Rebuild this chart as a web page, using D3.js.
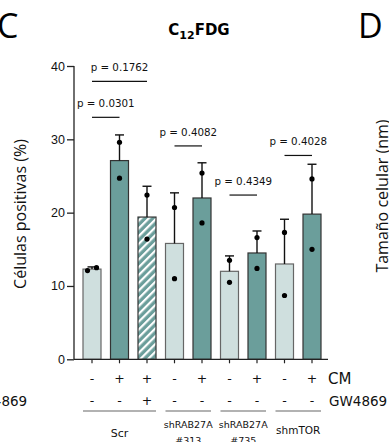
<!DOCTYPE html>
<html>
<head>
<meta charset="utf-8">
<script src="https://cdn.jsdelivr.net/npm/d3@7"></script>
<style>
body{margin:0;background:#fff;}
svg{display:block;}
</style>
</head>
<body>
<div id="graphHolder"></div>
<script>
//data
const groups = ['Scr','shRAB27A\n#313','shRAB27A\n#735','shmTOR']
const groupOf = [0,0,0,1,1,2,2,3,3]
const cm = ['-','+','+','-','+','-','+','-','+']
const gw = ['-','-','+','-','-','-','-','-','-']
const means = [12.3,27.1,19.4,15.8,22.0,12.0,14.5,13.0,19.8]
const sd = [0.3,3.5,4.2,6.9,4.8,2.1,3.0,6.1,6.8]
const points = [[12.1,12.5],[29.6,24.7],[22.4,16.4],[20.7,11.0],[25.4,18.6],[13.5,10.5],[16.6,12.4],[17.3,8.7],[24.6,15.0]]
const kind = ['light','dark','hatch','light','dark','light','dark','light','dark']
const yTicks = [0,10,20,30,40]
//comparisons: from bar, to bar, label, level
const compFrom = [0,0,3,5,7]
const compTo = [2,1,4,6,8]
const compLabel = ['p = 0.1762','p = 0.0301','p = 0.4082','p = 0.4349','p = 0.4028']
const compLevel = [37.9,33.0,29.1,22.4,27.8]

const width = 389,height = 442
const dark = '#6b9e9b',light = '#cfdfde'

const svg = d3.select('#graphHolder').append('svg')
	.attr('width',width).attr('height',height)

const defs = svg.append('defs')
const pat = defs.append('pattern').attr('id','hatch')
	.attr('patternUnits','userSpaceOnUse')
	.attr('width',5.5).attr('height',5.5)
	.attr('patternTransform','rotate(45)')
pat.append('rect').attr('width',5.5).attr('height',5.5).attr('fill',dark)
pat.append('rect').attr('x',0).attr('width',2.2).attr('height',5.5).attr('fill','#fff')

const x = d3.scalePoint().domain(d3.range(means.length)).range([92,312])
const y = d3.scaleLinear().domain([0,40]).range([359.3,66])
const bw = 18

//panel letters + title
svg.append('text').attr('x',-3).attr('y',38).text('C')
	.style('font-family','"Open Sans", "Noto Sans", sans-serif').style('font-size','34px')
svg.append('text').attr('x',358).attr('y',38).text('D')
	.style('font-family','"Open Sans", "Noto Sans", sans-serif').style('font-size','34px')
const title = svg.append('text').attr('x',199).attr('y',35).attr('text-anchor','middle')
	.style('font-family','"DejaVu Sans", sans-serif').style('font-size','15px').style('font-weight','bold')
title.append('tspan').text('C')
title.append('tspan').attr('dy',4).style('font-size','11px').text('12')
title.append('tspan').attr('dy',-4).text('FDG')

//y axis
const yAxis = svg.append('g').attr('transform','translate(74,0)')
	.call(d3.axisLeft(y).tickValues(yTicks).tickSize(7).tickPadding(2))
yAxis.select('.domain').attr('d',`M0,${y(0)}V${y(40)}`).attr('stroke','#222').attr('stroke-width',1.3)
yAxis.selectAll('.tick line').attr('stroke','#222').attr('stroke-width',1.3)
yAxis.selectAll('.tick text').style('font-family','"Liberation Sans", Arial, sans-serif').style('font-size','12.5px').attr('fill','#111')

svg.append('text').attr('transform','translate(26,214) rotate(-90)').attr('text-anchor','middle')
	.text('Células positivas (%)')
	.style('font-family','"Open Sans", "Noto Sans", sans-serif').style('font-size','16px').attr('fill','#111')
svg.append('text').attr('transform','translate(388,196) rotate(-90)').attr('text-anchor','middle')
	.text('Tamaño celular (nm)')
	.style('font-family','"Open Sans", "Noto Sans", sans-serif').style('font-size','16px').attr('fill','#111')

//bars
const bars = svg.append('g')
bars.selectAll('rect').data(means).enter().append('rect')
	.attr('x',(d,i) => x(i) - bw/2)
	.attr('y',d => y(d))
	.attr('width',bw)
	.attr('height',d => y(0) - y(d))
	.attr('fill',(d,i) => kind[i] === 'light' ? light : (kind[i] === 'hatch' ? 'url(#hatch)' : dark))
	.attr('stroke',(d,i) => kind[i] === 'light' ? '#666' : '#333')
	.attr('stroke-width',1.2)

//error bars (upper only)
const err = svg.append('g').attr('stroke','#111').attr('stroke-width',1.4)
means.forEach((m,i) => {
	err.append('line').attr('x1',x(i)).attr('x2',x(i)).attr('y1',y(m)).attr('y2',y(m + sd[i]))
	err.append('line').attr('x1',x(i) - 4.5).attr('x2',x(i) + 4.5).attr('y1',y(m + sd[i])).attr('y2',y(m + sd[i]))
})

//points
const dots = svg.append('g')
points.forEach((pts,i) => {
	const close = Math.abs(pts[0] - pts[1]) < 1
	pts.forEach((v,j) => {
		dots.append('circle')
			.attr('cx',x(i) + (close ? (j === 0 ? -4.5 : 4.5) : 0))
			.attr('cy',y(v)).attr('r',2.6).attr('fill','#000')
	})
})

//x axis line
svg.append('line').attr('x1',74).attr('x2',328).attr('y1',y(0)).attr('y2',y(0))
	.attr('stroke','#222').attr('stroke-width',1.3)
svg.append('g').selectAll('line').data(means).enter().append('line')
	.attr('x1',(d,i) => x(i)).attr('x2',(d,i) => x(i))
	.attr('y1',y(0)).attr('y2',y(0) + 4).attr('stroke','#222').attr('stroke-width',1.2)

//significance
const sig = svg.append('g')
compLabel.forEach((lab,k) => {
	const x1 = x(compFrom[k]),x2 = x(compTo[k]),yy = y(compLevel[k])
	sig.append('line').attr('x1',x1).attr('x2',x2).attr('y1',yy).attr('y2',yy)
		.attr('stroke','#111').attr('stroke-width',1.2)
	sig.append('text').attr('x',(x1 + x2)/2).attr('y',yy - 10).attr('text-anchor','middle')
		.text(lab).style('font-family','"DejaVu Sans", sans-serif').style('font-size','10.3px').attr('fill','#111')
})

//treatment rows
const rows = svg.append('g').style('font-family','"DejaVu Sans", sans-serif').attr('fill','#111')
cm.forEach((s,i) => {
	rows.append('text').attr('x',x(i)).attr('y',383).attr('text-anchor','middle').style('font-size','12.5px').text(s)
	rows.append('text').attr('x',x(i)).attr('y',405).attr('text-anchor','middle').style('font-size','12.5px').text(gw[i])
})
rows.append('text').attr('x',328).attr('y',384).text('CM').style('font-size','15px')
rows.append('text').attr('x',329).attr('y',406).text('GW4869').style('font-size','13.5px')
rows.append('text').attr('x',-31).attr('y',406).text('GW4869').style('font-size','13.5px')

//group lines + labels
const gl = svg.append('g')
groups.forEach((g,k) => {
	const idx = d3.range(means.length).filter(i => groupOf[i] === k)
	const xa = x(idx[0]) - bw/2,xb = x(idx[idx.length - 1]) + bw/2
	gl.append('line').attr('x1',xa).attr('x2',xb).attr('y1',411).attr('y2',411)
		.attr('stroke','#666').attr('stroke-width',1.2)
	const lines = g.split('\n')
	const t = gl.append('text').attr('text-anchor','middle')
		.style('font-family','"DejaVu Sans", sans-serif').attr('fill','#111')
	if(lines.length === 1){
		t.attr('x',(xa + xb)/2).attr('y',k === 0 ? 437 : 434).style('font-size',k === 0 ? '11px' : '10.5px').text(lines[0])
	}else{
		lines.forEach((l,j) => {
			t.append('tspan').attr('x',(xa + xb)/2).attr('y',428 + j*16).style('font-size','9.5px').text(l)
		})
	}
})
</script>
</body>
</html>
